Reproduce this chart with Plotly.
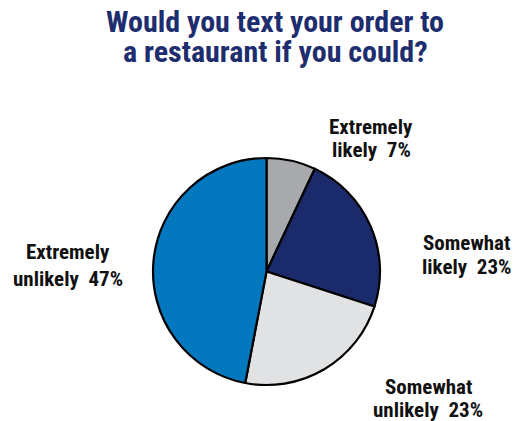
import plotly.graph_objects as go

# Survey responses
categories = ["Extremely likely", "Somewhat likely", "Somewhat unlikely", "Extremely unlikely"]
shares = [7, 23, 23, 47]
slice_colors = ["#a8a9ad", "#1b2a6b", "#e1e2e4", "#0378bf"]

# Outside label text, one entry per line
label_lines = [
    ["Extremely", "likely\u00a0\u00a07%"],
    ["Somewhat", "likely\u00a0\u00a023%"],
    ["Somewhat", "unlikely\u00a0\u00a023%"],
    ["Extremely", "unlikely\u00a0\u00a047%"],
]
title_lines = ["Would you text your order to", "a restaurant if you could?"]

W, H = 514, 421
FONT = "Roboto Condensed, DejaVu Sans Condensed, Liberation Sans Narrow, Arial Narrow, sans-serif"

def px(x):
    return x / W

def py(y):
    return 1 - y / H

fig = go.Figure(
    go.Pie(
        labels=categories,
        values=shares,
        sort=False,
        direction="clockwise",
        rotation=0,
        marker=dict(colors=slice_colors, line=dict(color="#000000", width=2.2)),
        textinfo="none",
        hoverinfo="label+percent",
        domain=dict(x=[px(153), px(380)], y=[py(385), py(158)]),
        showlegend=False,
    )
)

annotations = []
# title, two lines
for line, yc in zip(title_lines, [22, 52]):
    annotations.append(dict(
        text=f"<b>{line}</b>", x=px(275), y=py(yc), xref="paper", yref="paper",
        xanchor="center", yanchor="middle", showarrow=False,
        font=dict(family=FONT, size=30, color="#1e2d6e"),
    ))

# slice labels: centre x and per-line centre y in pixels
label_pos = [
    (371, [127, 150]),
    (466, [243, 267]),
    (428, [387, 410]),
    (68, [252, 279]),
]
for lines, (xc, ys) in zip(label_lines, label_pos):
    for line, yc in zip(lines, ys):
        annotations.append(dict(
            text=f"<b>{line}</b>", x=px(xc), y=py(yc), xref="paper", yref="paper",
            xanchor="center", yanchor="middle", showarrow=False,
            font=dict(family=FONT, size=21, color="#111111"),
        ))

fig.update_layout(
    width=W, height=H,
    margin=dict(l=0, r=0, t=0, b=0),
    paper_bgcolor="white",
    plot_bgcolor="white",
    annotations=annotations,
)

fig.write_html("out.html")
